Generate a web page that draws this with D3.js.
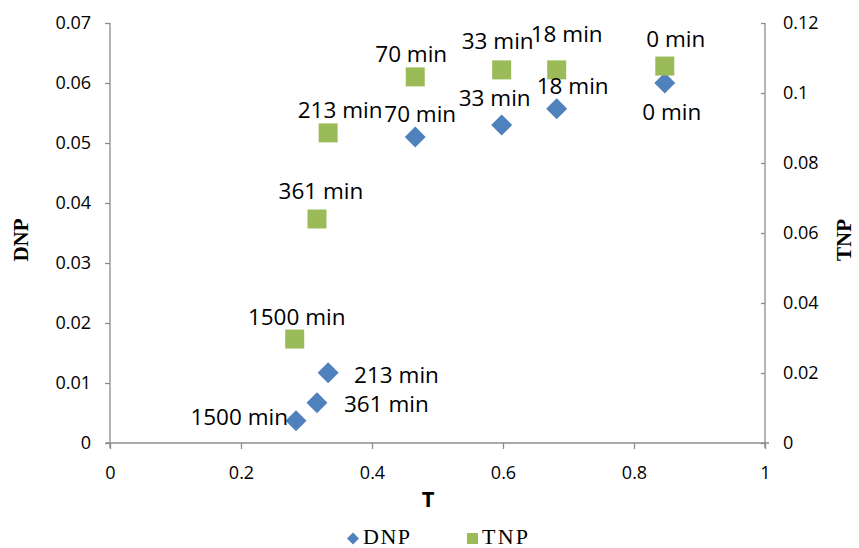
<!DOCTYPE html>
<html><head><meta charset="utf-8">
<script src="https://cdn.jsdelivr.net/npm/d3@7"></script>
<style>body{margin:0;background:#fff}</style>
</head><body>
<svg id="c" width="859" height="548"></svg>
<script>
const labels = ["1500 min","361 min","213 min","70 min","33 min","18 min","0 min"];
const tValues = [0.284,0.316,0.333,0.466,0.598,0.682,0.847];
const dnpValues = [0.0037,0.0067,0.0117,0.051,0.053,0.0557,0.060];
const tnpTValues = [0.282,0.316,0.333,0.466,0.598,0.682,0.847];
const tnpValues = [0.0297,0.064,0.0886,0.1046,0.1066,0.1066,0.1077];
const xTicks = [0,0.2,0.4,0.6,0.8,1];
const yLeftTicks = [0,0.01,0.02,0.03,0.04,0.05,0.06,0.07];
const yRightTicks = [0,0.02,0.04,0.06,0.08,0.1,0.12];

// label placement (layout only): [anchor, dx, dy] relative to the marker centre
const tnpLabelLayout = [["middle",2,-14],["middle",4,-20],["middle",12,-15],["middle",-4,-15],["middle",-4,-21],["middle",10,-28],["middle",11,-19]];
const dnpLabelLayout = [["end",-8,4],["start",27,9],["start",26,10],["middle",5,-15],["middle",-7,-19],["middle",16,-15],["middle",7,37]];

const svg = d3.select("#c");
const L=110,R=765,T=23,B=443;
const x = d3.scaleLinear().domain([0,1]).range([L,R]);
const yl = d3.scaleLinear().domain([0,0.07]).range([B,T]);
const yr = d3.scaleLinear().domain([0,0.12]).range([B,T]);
const axisColor="#8c8c8c";
const sans="'Open Sans', sans-serif";
const serif="'Liberation Serif','Times New Roman',serif";

const gx = svg.append("g").attr("transform",`translate(0,${B})`)
  .call(d3.axisBottom(x).tickValues(xTicks).tickFormat(d3.format("~g")).tickSize(6).tickPadding(17));
const gl = svg.append("g").attr("transform",`translate(${L},0)`)
  .call(d3.axisLeft(yl).tickValues(yLeftTicks).tickFormat(d=>d===0?"0":d3.format(".2f")(d)).tickSize(5).tickPadding(14));
const gr = svg.append("g").attr("transform",`translate(${R},0)`)
  .call(d3.axisRight(yr).tickValues(yRightTicks).tickFormat(d3.format("~g")).tickSize(-4).tickPadding(18));
[gx,gl,gr].forEach(g=>{
  g.selectAll("path,line").attr("stroke",axisColor).attr("stroke-width",1.3);
  g.selectAll("text").attr("fill","#000").style("font-family",sans).style("font-size","18px");
});
gx.select(".domain").attr("d",`M${L-4},0H${R+4}`);
gl.select(".domain").attr("d",`M0,${T}V${B+5}`);
gr.select(".domain").attr("d",`M0,${T}V${B+5}`);

// axis titles
svg.append("text").attr("x",428).attr("y",507).attr("text-anchor","middle")
  .style("font-family",sans).style("font-weight","bold").style("font-size","22px").text("T");
svg.append("text").attr("transform",`translate(28,240) rotate(-90)`).attr("text-anchor","middle")
  .style("font-family",serif).style("font-weight","bold").style("font-size","21px").text("DNP");
svg.append("text").attr("transform",`translate(851,240) rotate(-90)`).attr("text-anchor","middle")
  .style("font-family",serif).style("font-weight","bold").style("font-size","21px").text("TNP");

const blue="#4f81bd", green="#9bbb59";
const dnpData = labels.map((l,i)=>({l,t:tValues[i],v:dnpValues[i],lay:dnpLabelLayout[i]}));
const tnpData = labels.map((l,i)=>({l,t:tnpTValues[i],v:tnpValues[i],lay:tnpLabelLayout[i]}));

const diamond = d3.symbol().type(d3.symbolSquare).size(220);
svg.append("g").selectAll("path").data(dnpData).join("path")
  .attr("d",diamond).attr("fill",blue)
  .attr("transform",d=>`translate(${x(d.t)},${yl(d.v)}) rotate(45)`);
svg.append("g").selectAll("rect").data(tnpData).join("rect")
  .attr("x",d=>x(d.t)-9.5).attr("y",d=>yr(d.v)-9.5).attr("width",19).attr("height",19).attr("fill",green);

const lab = svg.append("g").style("font-family",sans).style("font-size","22.5px").attr("fill","#000");
lab.selectAll("text.t").data(tnpData).join("text").attr("class","t")
  .attr("x",d=>x(d.t)+d.lay[1]).attr("y",d=>yr(d.v)+d.lay[2]).attr("text-anchor",d=>d.lay[0]).text(d=>d.l);
lab.selectAll("text.d").data(dnpData).join("text").attr("class","d")
  .attr("x",d=>x(d.t)+d.lay[1]).attr("y",d=>yl(d.v)+d.lay[2]).attr("text-anchor",d=>d.lay[0]).text(d=>d.l);

// legend
const lg = svg.append("g").style("font-family",serif).style("font-size","22px");
lg.append("path").attr("d",d3.symbol().type(d3.symbolSquare).size(72)).attr("fill",blue)
  .attr("transform","translate(353,538.5) rotate(45)");
lg.append("text").attr("x",363).attr("y",543.5).attr("textLength",47).text("DNP");
lg.append("rect").attr("x",467).attr("y",533).attr("width",11).attr("height",11).attr("fill",green);
lg.append("text").attr("x",482).attr("y",543.5).attr("textLength",46).text("TNP");
</script>
</body></html>
